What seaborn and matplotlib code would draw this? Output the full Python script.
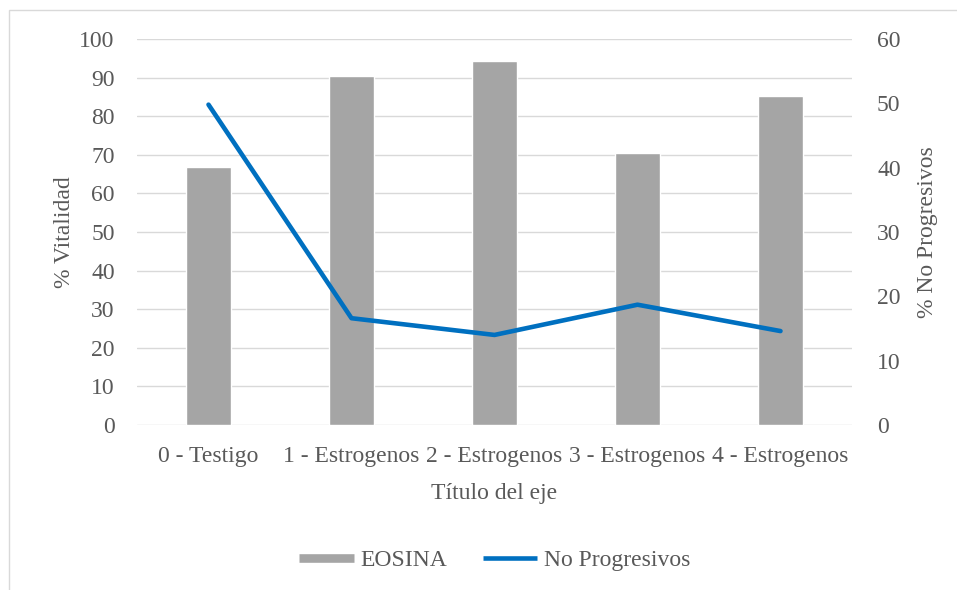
import seaborn as sns  # For data visualization
import matplotlib.pyplot as plt  # For rendering plots
import pandas as pd  # For handling datasets
from matplotlib.lines import Line2D
from matplotlib.patches import Rectangle

# Chart data
categories = ['0 - Testigo', '1 - Estrogenos', '2 - Estrogenos', '3 - Estrogenos', '4 - Estrogenos']
eosina = [66.8, 90.3, 94.4, 70.5, 85.3]          # % Vitalidad (left axis)
no_progresivos = [49.8, 16.6, 14.0, 18.7, 14.6]  # % No Progresivos (right axis)
left_ticks = list(range(0, 101, 10))
right_ticks = list(range(0, 61, 10))

df = pd.DataFrame({'categoria': categories, 'EOSINA': eosina, 'No Progresivos': no_progresivos})

sns.set_style('white')
plt.rcParams['font.family'] = ['Liberation Serif', 'DejaVu Serif']
text_color = '#595959'
grid_color = '#D9D9D9'
fs = 17

fig = plt.figure(figsize=(9.57, 5.90), dpi=100)
ax = fig.add_axes([137 / 957, 1 - 425 / 590, 715 / 957, 386 / 590])

# Bars on the left axis
sns.barplot(data=df, x='categoria', y='EOSINA', color='#A5A5A5', width=0.315,
            saturation=1, ax=ax, zorder=2)
ax.set_ylim(0, 100)
ax.set_yticks(left_ticks)
ax.set_xlim(-0.5, 4.5)
ax.yaxis.grid(True, color=grid_color, linewidth=1.0, zorder=0)
ax.set_axisbelow(True)

# Line on the right axis
ax2 = ax.twinx()
sns.lineplot(data=df, x='categoria', y='No Progresivos', color='#0070C0', linewidth=3.3,
             sort=False, ax=ax2)
ax2.set_ylim(0, 60)
ax2.set_yticks(right_ticks)
ax2.set_xlim(-0.5, 4.5)

for a in (ax, ax2):
    for s in a.spines.values():
        s.set_visible(False)
    a.tick_params(length=0, labelsize=fs, labelcolor=text_color)
ax.tick_params(axis='y', pad=16)
ax.tick_params(axis='x', pad=15)
ax2.tick_params(axis='y', pad=18)

ax.set_xlabel('Título del eje', fontsize=fs, color=text_color)
ax.set_ylabel('% Vitalidad', fontsize=fs, color=text_color)
ax2.set_ylabel('% No Progresivos', fontsize=fs, color=text_color, rotation=90)
ax.xaxis.set_label_coords(0.5, -0.178)
ax.xaxis.label.set_verticalalignment('center')
ax.yaxis.set_label_coords(-0.101, 0.5)
ax.yaxis.label.set_verticalalignment('center')
ax2.yaxis.set_label_coords(1.106, 0.5)
ax2.yaxis.label.set_verticalalignment('center')

# Legend at the bottom, Excel style
handles = [Line2D([], [], color='#A5A5A5', linewidth=6.2, solid_capstyle='butt'),
           Line2D([], [], color='#0070C0', linewidth=3.3, solid_capstyle='butt')]
leg = fig.legend(handles, ['EOSINA', 'No Progresivos'], loc='center',
                 bbox_to_anchor=(495 / 957, 1 - 560 / 590), ncol=2, frameon=False,
                 fontsize=fs, handlelength=2.3, handletextpad=0.3, columnspacing=1.5)
for t in leg.get_texts():
    t.set_color(text_color)

# Outer chart border (top and left edges visible)
fig.patches.append(Rectangle((8.5 / 957, -0.1), 1.2, 0.1 + (1 - 9.5 / 590),
                             transform=fig.transFigure, fill=False,
                             edgecolor=grid_color, linewidth=1.0))

fig.savefig('out.png', dpi=100)
